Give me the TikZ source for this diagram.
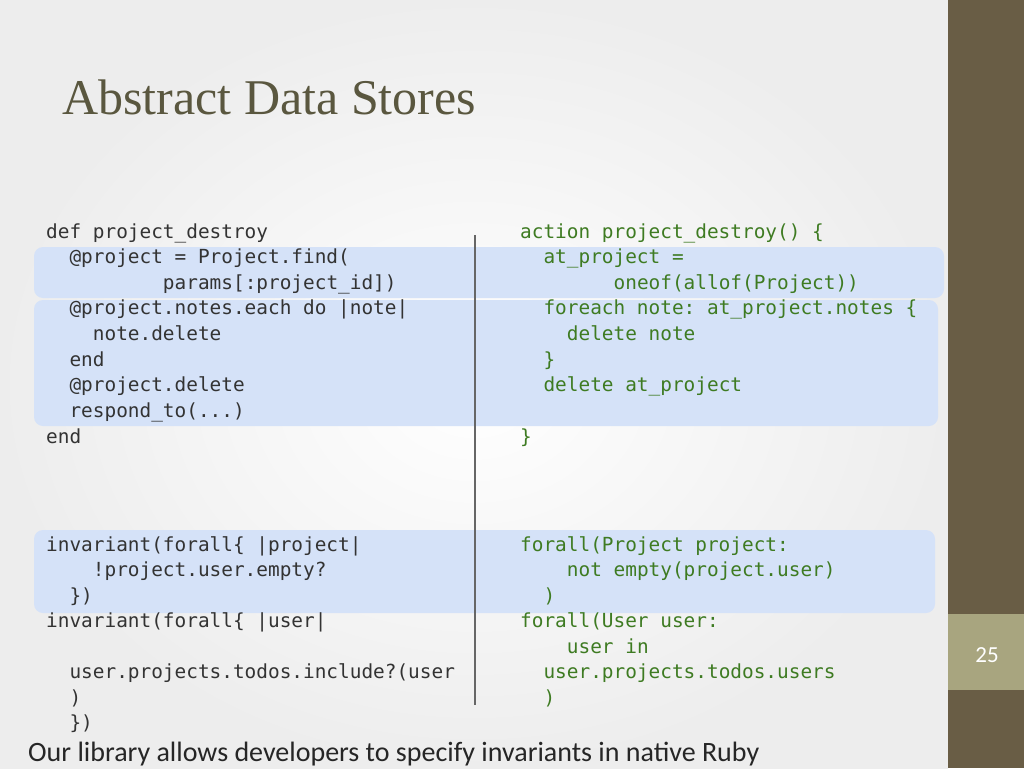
\documentclass[tikz,border=0pt]{standalone}
\usepackage{fontspec}
\setmainfont{Carlito}
\setmonofont{DejaVu Sans Mono}
\newfontfamily\titlefont{Liberation Serif}
\begin{document}
\begin{tikzpicture}[x=1pt,y=-1pt,
  code/.style={anchor=mid west,inner sep=0pt,yshift=-4pt,font=\ttfamily\fontsize{19.4}{21}\selectfont},
  lcode/.style={code,text=black!80},
  rcode/.style={code,text=rgreen},
  hl/.style={fill=hlblue,rounded corners=9pt,draw=none}]
\definecolor{rgreen}{HTML}{3E7B22}
\definecolor{hlblue}{HTML}{D5E2F8}
\definecolor{barcol}{HTML}{695D45}
\definecolor{numbox}{HTML}{A8A57F}
\definecolor{titlecol}{HTML}{5A573F}
\useasboundingbox (0,0) rectangle (1024,768);
\shade[inner color=white,outer color=black!7] (0,0) rectangle (948,768);
\fill[barcol] (948,0) rectangle (1024,768);
\fill[numbox] (948,614) rectangle (1024,690);
\node[text=white,font=\fontsize{23}{25}\selectfont] (pn) at (987,655) {25};
\node[anchor=base west,inner sep=0pt,text=titlecol,font=\titlefont\fontsize{50}{54}\selectfont] (title) at (62,114) {Abstract Data Stores};
\fill[hl] (34,247) rectangle (944,298);
\fill[hl] (34,300) rectangle (938,426);
\fill[hl] (34,530) rectangle (935,613);
\draw[black!60,line width=2pt] (475,235) coordinate (d1) -- (475,705) coordinate (d2);
% left code
\node[lcode] (l1) at (46,232) {def project\_destroy};
\node[lcode] (l2) at (46,257) {\ \ @project = Project.find(};
\node[lcode] (l3) at (46,283) {\ \ \ \ \ \ \ \ \ \ params[:project\_id])};
\node[lcode] (l4) at (46,308) {\ \ @project.notes.each do |note|};
\node[lcode] (l5) at (46,334) {\ \ \ \ note.delete};
\node[lcode] (l6) at (46,360) {\ \ end};
\node[lcode] (l7) at (46,385) {\ \ @project.delete};
\node[lcode] (l8) at (46,411) {\ \ respond\_to(...)};
\node[lcode] (l9) at (46,437) {end};
\node[lcode] (m1) at (46,545) {invariant(forall\{ |project|};
\node[lcode] (m2) at (46,570) {\ \ \ \ !project.user.empty?};
\node[lcode] (m3) at (46,596) {\ \ \})};
\node[lcode] (m4) at (46,621) {invariant(forall\{ |user|};
\node[lcode] (m5) at (46,672) {\ \ user.projects.todos.include?(user};
\node[lcode] (m6) at (46,698) {\ \ )};
\node[lcode] (m7) at (46,723) {\ \ \})};
% right code
\node[rcode] (r1) at (520,232) {action project\_destroy() \{};
\node[rcode] (r2) at (520,257) {\ \ at\_project =};
\node[rcode] (r3) at (520,283) {\ \ \ \ \ \ \ \ oneof(allof(Project))};
\node[rcode] (r4) at (520,308) {\ \ foreach note: at\_project.notes \{};
\node[rcode] (r5) at (520,334) {\ \ \ \ delete note};
\node[rcode] (r6) at (520,360) {\ \ \}};
\node[rcode] (r7) at (520,385) {\ \ delete at\_project};
\node[rcode] (r8) at (520,437) {\}};
\node[rcode] (s1) at (520,545) {forall(Project project:};
\node[rcode] (s2) at (520,570) {\ \ \ \ not empty(project.user)};
\node[rcode] (s3) at (520,596) {\ \ )};
\node[rcode] (s4) at (520,621) {forall(User user:};
\node[rcode] (s5) at (520,647) {\ \ \ \ user in};
\node[rcode] (s6) at (520,672) {\ \ user.projects.todos.users};
\node[rcode] (s7) at (520,698) {\ \ )};
\node[anchor=base west,inner sep=0pt,text=black!85,font=\fontsize{28}{30}\selectfont] (foot) at (28,761) {Our library allows developers to specify invariants in native Ruby};
\end{tikzpicture}
\end{document}
